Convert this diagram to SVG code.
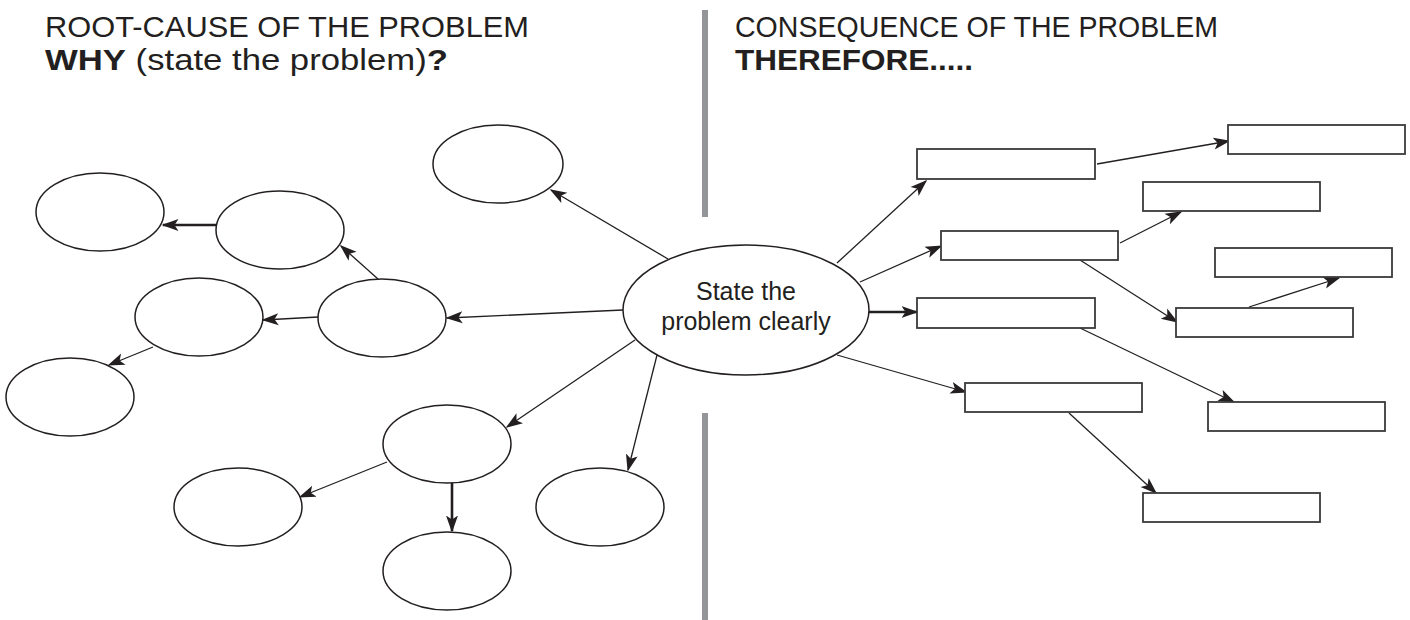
<svg xmlns="http://www.w3.org/2000/svg" width="1410" height="620" viewBox="0 0 1410 620">
<style>
.t{font-family:"Liberation Sans",Arial,sans-serif;fill:#231f20}
.h{font-size:29px}
.b{font-weight:bold}
.el{fill:#fff;stroke:#231f20;stroke-width:1.5}
.rc{fill:#fff;stroke:#3a3a3a;stroke-width:1.8}
.c{stroke:#231f20;stroke-width:1.3;fill:none;marker-end:url(#ah)}
.k{stroke-width:2.6}
.dv{stroke:#939598;stroke-width:6}
</style>
<defs>
<marker id="ah" markerUnits="userSpaceOnUse" markerWidth="18" markerHeight="14" refX="15.5" refY="6.5" orient="auto">
<path d="M0,0.5 L17,6.5 L0,12.5 L4,6.5 z" fill="#231f20"/>
</marker>
</defs>
<rect width="1410" height="620" fill="#fff"/>
<g id="titles">
<text class="t h" x="45" y="37" textLength="484" lengthAdjust="spacingAndGlyphs">ROOT-CAUSE OF THE PROBLEM</text>
<text class="t h" x="45" y="70" textLength="403" lengthAdjust="spacingAndGlyphs"><tspan class="b">WHY</tspan> (state the problem)<tspan class="b">?</tspan></text>
<text class="t h" x="735" y="37" textLength="483" lengthAdjust="spacingAndGlyphs">CONSEQUENCE OF THE PROBLEM</text>
<text class="t h b" x="735" y="70" textLength="238" lengthAdjust="spacingAndGlyphs">THEREFORE.....</text>
</g>
<g id="divider">
<line class="dv" x1="705" y1="10" x2="705" y2="217"/>
<line class="dv" x1="705" y1="413" x2="705" y2="620"/>
</g>
<g id="connectors">
<line class="c" x1="668" y1="259" x2="551" y2="190"/>
<line class="c" x1="623" y1="310" x2="447" y2="318"/>
<line class="c" x1="378" y1="279" x2="341" y2="246"/>
<line class="c k" x1="216" y1="225" x2="163" y2="225"/>
<line class="c" x1="318" y1="317" x2="263" y2="320"/>
<line class="c" x1="153" y1="347" x2="109" y2="365"/>
<line class="c" x1="635" y1="340" x2="507" y2="427"/>
<line class="c" x1="657" y1="355" x2="628" y2="470"/>
<line class="c" x1="387" y1="462" x2="300" y2="497"/>
<line class="c k" x1="452" y1="483" x2="452" y2="531"/>
<line class="c" x1="837" y1="263" x2="926" y2="181"/>
<line class="c" x1="1097" y1="164" x2="1229" y2="141"/>
<line class="c" x1="860" y1="282" x2="941" y2="246"/>
<line class="c" x1="1120" y1="243" x2="1181" y2="212"/>
<line class="c" x1="1080" y1="260" x2="1177" y2="322"/>
<line class="c" x1="1249" y1="307" x2="1339" y2="278"/>
<line class="c k" x1="869" y1="312" x2="917" y2="312"/>
<line class="c" x1="1080" y1="328" x2="1234" y2="402"/>
<line class="c" x1="837" y1="355" x2="966" y2="392"/>
<line class="c" x1="1069" y1="413" x2="1156" y2="493"/>
</g>
<g id="center">
<ellipse class="el" cx="746" cy="310" rx="123" ry="65"/>
<text class="t" x="746" y="300" font-size="25" text-anchor="middle">State the</text>
<text class="t" x="746" y="330" font-size="25" text-anchor="middle">problem clearly</text>
</g>
<g id="e1"><ellipse class="el" cx="498" cy="164" rx="65" ry="39"/></g>
<g id="e2"><ellipse class="el" cx="100" cy="212" rx="64" ry="39"/></g>
<g id="e3"><ellipse class="el" cx="280" cy="230" rx="64" ry="39"/></g>
<g id="e4"><ellipse class="el" cx="199" cy="317" rx="64" ry="39"/></g>
<g id="e5"><ellipse class="el" cx="382" cy="318" rx="64" ry="39"/></g>
<g id="e6"><ellipse class="el" cx="70" cy="397" rx="64" ry="39"/></g>
<g id="e7"><ellipse class="el" cx="447" cy="444" rx="64" ry="39"/></g>
<g id="e8"><ellipse class="el" cx="238" cy="507" rx="64" ry="39"/></g>
<g id="e9"><ellipse class="el" cx="600" cy="507" rx="64" ry="39"/></g>
<g id="e10"><ellipse class="el" cx="447" cy="571" rx="64" ry="39"/></g>
<g id="r1"><rect class="rc" x="917" y="149" width="178" height="30"/></g>
<g id="r2"><rect class="rc" x="1228" y="125" width="177" height="29"/></g>
<g id="r3"><rect class="rc" x="1143" y="182" width="177" height="29"/></g>
<g id="r4"><rect class="rc" x="941" y="231" width="177" height="29"/></g>
<g id="r5"><rect class="rc" x="1215" y="248" width="177" height="29"/></g>
<g id="r6"><rect class="rc" x="1176" y="308" width="177" height="29"/></g>
<g id="r7"><rect class="rc" x="917" y="298" width="178" height="30"/></g>
<g id="r8"><rect class="rc" x="1208" y="402" width="177" height="29"/></g>
<g id="r9"><rect class="rc" x="965" y="383" width="177" height="29"/></g>
<g id="r10"><rect class="rc" x="1143" y="493" width="177" height="29"/></g>
</svg>
